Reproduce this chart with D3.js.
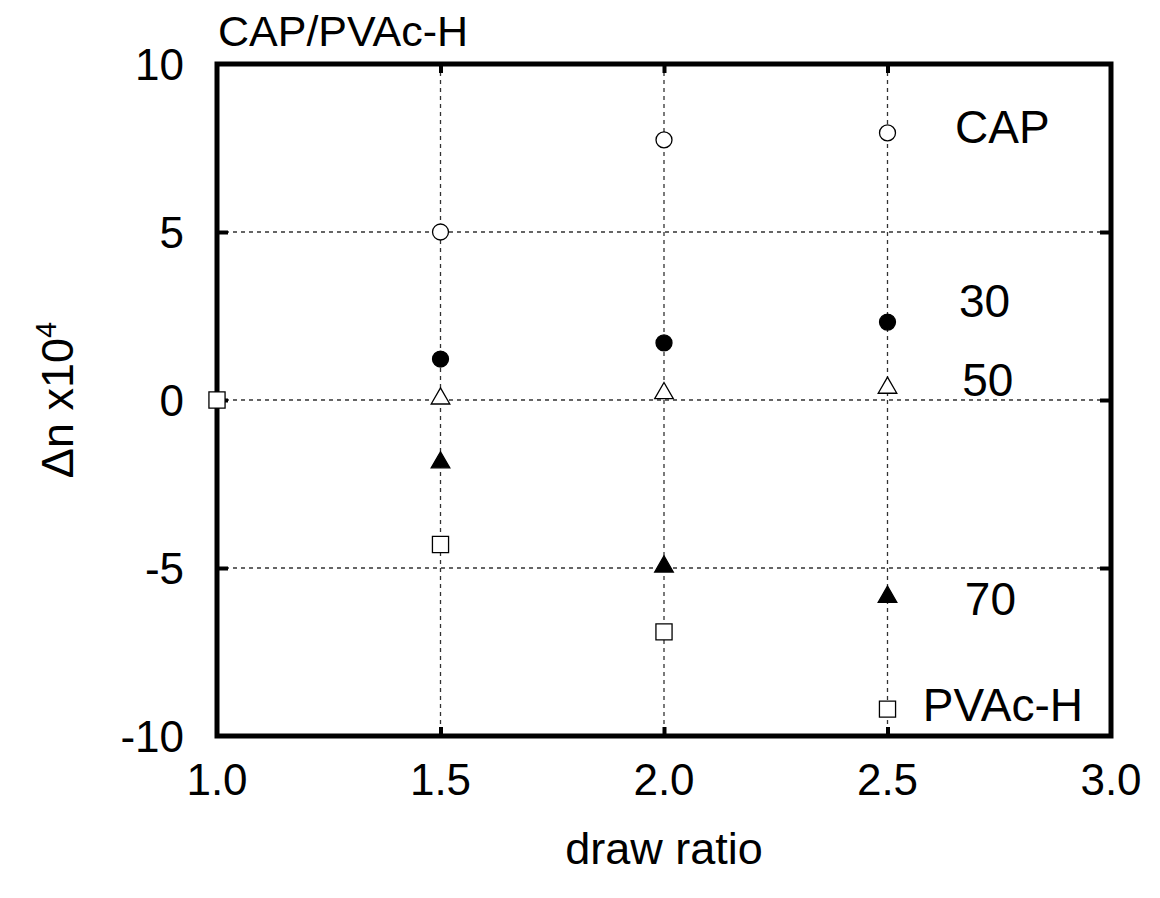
<!DOCTYPE html>
<html>
<head>
<meta charset="utf-8">
<script src="https://cdn.jsdelivr.net/npm/d3@7"></script>
<style>
  body { margin: 0; background: #fff; }
  text { font-family: "Liberation Sans", Arial, sans-serif; fill: #000; }
</style>
</head>
<body>
<div id="chart"></div>
<script>
// data
var drawRatio = [1.5, 2.0, 2.5];
var capValues = [5.0, 7.74, 7.95];
var pc30Values = [1.22, 1.70, 2.32];
var pc50Values = [0.10, 0.26, 0.42];
var pc70Values = [-1.80, -4.90, -5.80];
var pvacRatio = [1.0, 1.5, 2.0, 2.5];
var pvacValues = [0.0, -4.30, -6.90, -9.20];

var xTicks = [1.0, 1.5, 2.0, 2.5, 3.0];
var yTicks = [10, 5, 0, -5, -10];
var gridX = [1.5, 2.0, 2.5];
var gridY = [5, 0, -5];

var seriesList = [
  { name: "CAP", xs: drawRatio, ys: capValues, shape: "circle", fill: "#fff" },
  { name: "30", xs: drawRatio, ys: pc30Values, shape: "circle", fill: "#000" },
  { name: "50", xs: drawRatio, ys: pc50Values, shape: "triangle", fill: "#fff" },
  { name: "70", xs: drawRatio, ys: pc70Values, shape: "triangle", fill: "#000" },
  { name: "PVAc-H", xs: pvacRatio, ys: pvacValues, shape: "square", fill: "#fff" }
];

// labels at the right of the plot, given in data coords (baseline)
var labelX = [2.651, 2.66, 2.667, 2.673, 2.579];
var labelY = [7.65, 2.47, 0.12, -6.4, -9.55];

var width = 1160, height = 898;
var margin = { top: 64, right: 49, bottom: 162, left: 217 };
var innerW = width - margin.left - margin.right;
var innerH = height - margin.top - margin.bottom;

var x = d3.scaleLinear().domain([1.0, 3.0]).range([0, innerW]);
var y = d3.scaleLinear().domain([-10, 10]).range([innerH, 0]);

var svg = d3.select("#chart").append("svg")
  .attr("width", width)
  .attr("height", height);

var chart = svg.append("g")
  .attr("transform", "translate(" + margin.left + "," + margin.top + ")");

// dashed grid
chart.selectAll(".gx").data(gridX).enter().append("line")
  .attr("x1", function(d) { return x(d); })
  .attr("x2", function(d) { return x(d); })
  .attr("y1", 0).attr("y2", innerH)
  .attr("stroke", "#333").attr("stroke-width", 1.3)
  .attr("stroke-dasharray", "4,4");

chart.selectAll(".gy").data(gridY).enter().append("line")
  .attr("x1", 0).attr("x2", innerW)
  .attr("y1", function(d) { return y(d); })
  .attr("y2", function(d) { return y(d); })
  .attr("stroke", "#333").attr("stroke-width", 1.3)
  .attr("stroke-dasharray", "4,4");

// inward ticks on all four sides
var xAxisB = d3.axisBottom(x).tickValues(gridX).tickSize(-9).tickFormat("");
var xAxisT = d3.axisTop(x).tickValues(gridX).tickSize(-9).tickFormat("");
var yAxisL = d3.axisLeft(y).tickValues(gridY).tickSize(-11).tickFormat("");
var yAxisR = d3.axisRight(y).tickValues(gridY).tickSize(-11).tickFormat("");

chart.append("g").attr("transform", "translate(0," + innerH + ")").call(xAxisB);
chart.append("g").call(xAxisT);
chart.append("g").call(yAxisL);
chart.append("g").attr("transform", "translate(" + innerW + ",0)").call(yAxisR);
chart.selectAll(".domain").remove();
chart.selectAll(".tick line").attr("stroke", "#000").attr("stroke-width", 4);

// frame
chart.append("rect")
  .attr("x", 0).attr("y", 0)
  .attr("width", innerW).attr("height", innerH)
  .attr("fill", "none").attr("stroke", "#000").attr("stroke-width", 5);

// tick labels
chart.selectAll(".xl").data(xTicks).enter().append("text")
  .attr("x", function(d) { return x(d); })
  .attr("y", innerH + 59)
  .attr("text-anchor", "middle")
  .style("font-size", "44px")
  .text(function(d) { return d.toFixed(1); });

chart.selectAll(".yl").data(yTicks).enter().append("text")
  .attr("x", -33)
  .attr("y", function(d) { return y(d) + 16; })
  .attr("text-anchor", "end")
  .style("font-size", "44px")
  .text(function(d) { return d; });

// markers
var symbolFor = {
  circle: d3.symbol().type(d3.symbolCircle).size(200),
  triangle: d3.symbol().type(d3.symbolTriangle).size(150),
  square: d3.symbol().type(d3.symbolSquare).size(260)
};

seriesList.forEach(function(s) {
  var pts = s.xs.map(function(v, i) { return { x: v, y: s.ys[i] }; });
  chart.selectAll(null).data(pts).enter().append("path")
    .attr("d", symbolFor[s.shape])
    .attr("transform", function(d) {
      var dy = s.shape === "triangle" ? 2 : 0;
      return "translate(" + x(d.x) + "," + (y(d.y) + dy) + ")";
    })
    .attr("fill", s.fill)
    .attr("stroke", "#000")
    .attr("stroke-width", 1.3);
});

// series labels
chart.selectAll(".sl").data(seriesList).enter().append("text")
  .attr("x", function(d, i) { return x(labelX[i]); })
  .attr("y", function(d, i) { return y(labelY[i]); })
  .style("font-size", "46px")
  .text(function(d) { return d.name; });

// title
svg.append("text")
  .attr("x", 218).attr("y", 46)
  .style("font-size", "43px")
  .text("CAP/PVAc-H");

// axis titles
svg.append("text")
  .attr("x", margin.left + innerW / 2).attr("y", 864)
  .attr("text-anchor", "middle")
  .style("font-size", "45px")
  .text("draw ratio");

var yt = svg.append("text")
  .attr("transform", "translate(73," + (margin.top + innerH / 2) + ") rotate(-90)")
  .attr("text-anchor", "middle")
  .style("font-size", "45px");
yt.append("tspan").text("\u0394n x10");
yt.append("tspan").attr("dy", -17).style("font-size", "29px").text("4");
</script>
</body>
</html>
